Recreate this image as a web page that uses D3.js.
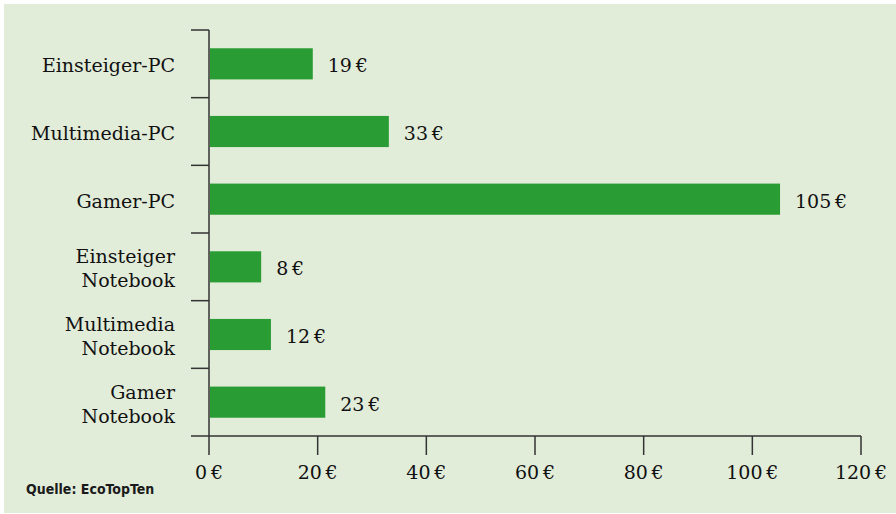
<!DOCTYPE html>
<html>
<head>
<meta charset="utf-8">
<script src="https://cdn.jsdelivr.net/npm/d3@7"></script>
<style>
  body { margin: 0; background: #ffffff; }
  svg { display: block; }
</style>
</head>
<body>
<div id="chart"></div>
<script>
// Stromkosten pro Jahr nach Gerätetyp - horizontal bar chart

const categories = [
  ["Einsteiger-PC"],
  ["Multimedia-PC"],
  ["Gamer-PC"],
  ["Einsteiger", "Notebook"],
  ["Multimedia", "Notebook"],
  ["Gamer", "Notebook"]
];
// bar lengths as drawn in the picture
const barValues = [19.1, 33.1, 105.1, 9.6, 11.4, 21.4];
const valueLabels = ["19\u2009€", "33\u2009€", "105\u2009€", "8\u2009€", "12\u2009€", "23\u2009€"];
const xTicks = [0, 20, 40, 60, 80, 100, 120];
const source = "Quelle: EcoTopTen";

const width = 896, height = 514;
const margin = { top: 30, right: 35, bottom: 78, left: 209 };
const innerW = width - margin.left - margin.right;
const innerH = height - margin.top - margin.bottom;

const serif = "'DejaVu Serif', serif";

const svg = d3.select("#chart")
  .append("svg")
  .attr("width", width)
  .attr("height", height);

svg.append("rect")
  .attr("x", 4)
  .attr("y", 4)
  .attr("width", width - 4)
  .attr("height", height - 5)
  .attr("fill", "#e1ecd9");

const g = svg.append("g")
  .attr("transform", `translate(${margin.left},${margin.top})`);

const keys = categories.map(d => d.join(" "));

const x = d3.scaleLinear().domain([0, 120]).range([0, innerW]);
const yBand = d3.scaleBand().domain(keys).range([0, innerH]).paddingInner(0.54).paddingOuter(0.27);
const yCell = d3.scaleBand().domain(keys).range([0, innerH]);

// bars
g.selectAll(".bar")
  .data(barValues)
  .join("rect")
  .attr("class", "bar")
  .attr("x", 1)
  .attr("y", (d, i) => yBand(keys[i]))
  .attr("width", d => x(d) - 1)
  .attr("height", yBand.bandwidth())
  .attr("fill", "#2a9c34");

// value labels
g.selectAll(".val")
  .data(barValues)
  .join("text")
  .attr("class", "val")
  .attr("x", d => x(d) + 15)
  .attr("y", (d, i) => yBand(keys[i]) + yBand.bandwidth() / 2)
  .attr("dy", "0.45em")
  .attr("font-family", serif)
  .attr("font-size", "19px")
  .attr("fill", "#111")
  .text((d, i) => valueLabels[i]);

// y axis line and boundary ticks
const axisColor = "#333";
g.append("line")
  .attr("x1", 0).attr("x2", 0)
  .attr("y1", 0).attr("y2", innerH)
  .attr("stroke", axisColor)
  .attr("stroke-width", 1.5);

const boundaries = keys.map(k => yCell(k)).concat([innerH]);
g.selectAll(".ytick")
  .data(boundaries)
  .join("line")
  .attr("class", "ytick")
  .attr("x1", -18).attr("x2", 0)
  .attr("y1", d => d).attr("y2", d => d)
  .attr("stroke", axisColor)
  .attr("stroke-width", 1.5);

// category labels
const catLabels = g.selectAll(".cat")
  .data(categories)
  .join("text")
  .attr("class", "cat")
  .attr("text-anchor", "end")
  .attr("font-family", serif)
  .attr("font-size", "19px")
  .attr("fill", "#111")
  .attr("transform", (d, i) => `translate(-34,${yCell(keys[i]) + yCell.bandwidth() / 2})`);

catLabels.selectAll("tspan")
  .data(d => d.map((t, j) => ({ t, j, n: d.length })))
  .join("tspan")
  .attr("x", 0)
  .attr("y", d => (d.j - (d.n - 1) / 2) * 24)
  .attr("dy", "0.45em")
  .text(d => d.t);

// x axis
g.append("line")
  .attr("x1", 0).attr("x2", innerW)
  .attr("y1", innerH).attr("y2", innerH)
  .attr("stroke", axisColor)
  .attr("stroke-width", 1.5);

g.selectAll(".xtick")
  .data(xTicks)
  .join("line")
  .attr("class", "xtick")
  .attr("x1", d => x(d)).attr("x2", d => x(d))
  .attr("y1", innerH).attr("y2", innerH + 19)
  .attr("stroke", axisColor)
  .attr("stroke-width", 1.5);

g.selectAll(".xlab")
  .data(xTicks)
  .join("text")
  .attr("class", "xlab")
  .attr("x", d => x(d))
  .attr("y", innerH + 35)
  .attr("dy", "0.4em")
  .attr("text-anchor", "middle")
  .attr("font-family", serif)
  .attr("font-size", "19px")
  .attr("fill", "#111")
  .text(d => d + "\u2009€");

// source
svg.append("text")
  .attr("x", 26)
  .attr("y", 494)
  .attr("font-family", "'Liberation Sans Narrow', 'DejaVu Sans Condensed', 'Roboto', sans-serif")
  .attr("font-weight", "bold")
  .attr("font-size", "14px")
  .attr("fill", "#1a1a1a")
  .text(source);
</script>
</body>
</html>
